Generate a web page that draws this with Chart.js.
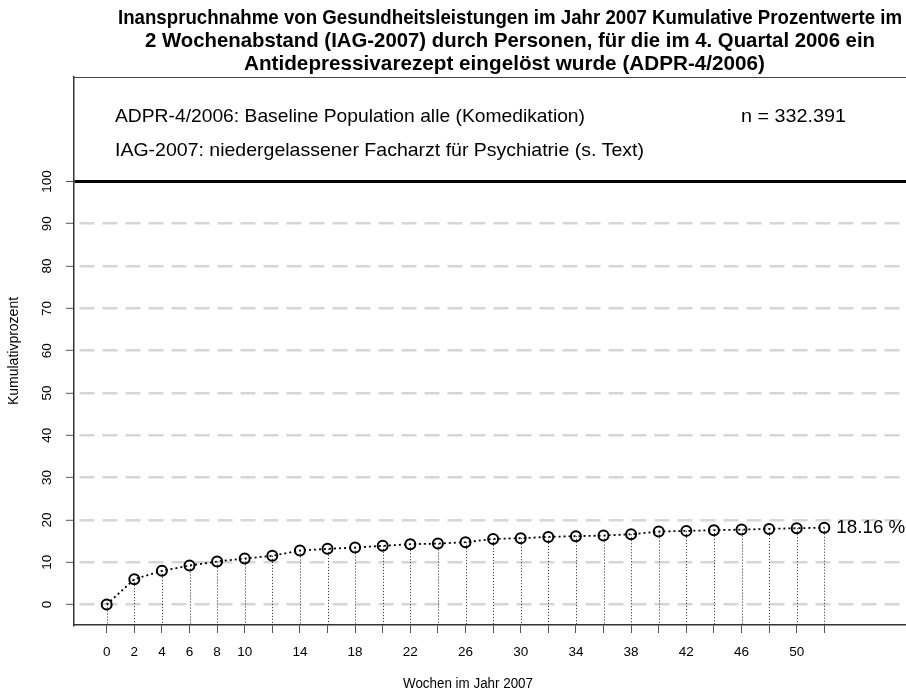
<!DOCTYPE html>
<html><head><meta charset="utf-8">
<script src="https://cdn.jsdelivr.net/npm/chart.js@4.4.1/dist/chart.umd.min.js"></script>
<style>html,body{margin:0;padding:0;background:#fff;overflow:hidden}canvas{display:block}</style>
</head><body>
<canvas id="c" width="906" height="692"></canvas>
<script>
// ---- data ----
const weeks = [0,2,4,6,8,10,12,14,16,18,20,22,24,26,28,30,32,34,36,38,40,42,44,46,48,50,52];
const cumPercent = [0,5.98,7.95,9.2,10.16,10.87,11.5,12.76,13.15,13.46,13.86,14.25,14.4,14.72,15.5,15.67,15.98,16.14,16.3,16.6,17.24,17.4,17.56,17.7,17.87,18.03,18.16];
const xTickValues = [0,2,4,6,8,10,12,14,16,18,20,22,24,26,28,30,32,34,36,38,40,42,44,46,48,50,52];
const xTickLabels = [0,2,4,6,8,10,14,18,22,26,30,34,38,42,46,50];
const yTickValues = [0,10,20,30,40,50,60,70,80,90,100];
const titleLines = [
  "Inanspruchnahme von Gesundheitsleistungen im Jahr 2007 Kumulative Prozentwerte im",
  "2 Wochenabstand (IAG-2007) durch Personen, für die im 4. Quartal 2006 ein",
  "Antidepressivarezept eingelöst wurde (ADPR-4/2006)"
];
const infoLine1 = "ADPR-4/2006: Baseline Population alle (Komedikation)";
const infoLine2 = "IAG-2007: niedergelassener Facharzt für Psychiatrie (s. Text)";
const infoN = "n = 332.391";
const endLabel = "18.16 %";
const xTitle = "Wochen im Jahr 2007";
const yTitle = "Kumulativprozent";

const FONT = '"Liberation Sans", Arial, sans-serif';

function fitText(ctx, text, x, y, width, align) {
  ctx.save();
  ctx.textAlign = align || 'left';
  ctx.textBaseline = 'middle';
  const w = ctx.measureText(text).width;
  const s = width ? width / w : 1;
  ctx.translate(x, y);
  ctx.scale(s, 1);
  ctx.fillText(text, 0, 0);
  ctx.restore();
}

const dropLines = {
  id: 'dropLines',
  beforeDatasetsDraw(chart) {
    const ctx = chart.ctx, area = chart.chartArea;
    const meta = chart.getDatasetMeta(0);
    ctx.save();
    ctx.setLineDash([1, 2]);
    ctx.strokeStyle = '#222';
    ctx.lineWidth = 1;
    meta.data.forEach(pt => {
      const x = Math.round(pt.x) + 0.5;
      ctx.beginPath();
      ctx.moveTo(x, pt.y);
      ctx.lineTo(x, area.bottom);
      ctx.stroke();
    });
    ctx.restore();
  }
};

const annotations = {
  id: 'annotations',
  afterDraw(chart) {
    const ctx = chart.ctx, area = chart.chartArea;
    const ys = chart.scales.y;
    ctx.save();
    ctx.fillStyle = '#000';
    // top border of box
    ctx.strokeStyle = '#444';
    ctx.lineWidth = 1;
    ctx.beginPath();
    ctx.moveTo(area.left, Math.round(area.top) + 0.5);
    ctx.lineTo(area.right, Math.round(area.top) + 0.5);
    ctx.stroke();
    // title
    ctx.font = 'bold 19.3px ' + FONT;
    const tL = [118, 145, 244], tR = [902, 875, 765], tY = [19, 42, 65];
    titleLines.forEach((t, i) => fitText(ctx, t, tL[i], tY[i], tR[i] - tL[i], 'left'));
    // info texts
    ctx.font = '18.5px ' + FONT;
    fitText(ctx, infoLine1, 115, 117, 470, 'left');
    fitText(ctx, infoLine2, 115, 151, 529, 'left');
    fitText(ctx, infoN, 741, 117, 105, 'left');
    // end label
    const meta = chart.getDatasetMeta(0);
    const last = meta.data[meta.data.length - 1];
    ctx.font = '19px ' + FONT;
    fitText(ctx, endLabel, last.x + 12, last.y, 69, 'left');
    // y tick labels rotated
    ctx.font = '13.5px ' + FONT;
    yTickValues.forEach(v => {
      const py = ys.getPixelForValue(v);
      ctx.save();
      ctx.translate(47, py);
      ctx.rotate(-Math.PI / 2);
      ctx.textAlign = 'center';
      ctx.textBaseline = 'middle';
      ctx.fillText(String(v), 0, 0);
      ctx.restore();
    });
    // axis titles
    ctx.font = '14px ' + FONT;
    fitText(ctx, xTitle, 468, 684, 130, 'center');
    ctx.save();
    ctx.translate(14, (area.top + area.bottom) / 2);
    ctx.rotate(-Math.PI / 2);
    ctx.textAlign = 'center';
    ctx.textBaseline = 'middle';
    ctx.fillText(yTitle, 0, 0);
    ctx.restore();
    ctx.restore();
  }
};

new Chart(document.getElementById('c'), {
  type: 'scatter',
  data: {
    datasets: [{
      data: weeks.map((w, i) => ({x: w, y: cumPercent[i]})),
      showLine: true,
      borderColor: '#000',
      borderWidth: 1.8,
      borderDash: [2, 3],
      pointRadius: 5,
      pointBorderWidth: 2,
      pointBorderColor: '#000',
      pointBackgroundColor: 'rgba(0,0,0,0)',
      pointHoverRadius: 5,
      clip: false
    }]
  },
  plugins: [dropLines, annotations],
  options: {
    responsive: false,
    animation: false,
    devicePixelRatio: 1,
    layout: {autoPadding: false, padding: {top: 77, left: 0, right: 0, bottom: 0}},
    plugins: {legend: {display: false}, title: {display: false}, tooltip: {enabled: false}},
    scales: {
      x: {
        type: 'linear',
        min: -2.37,
        max: 57.92,
        afterBuildTicks: s => { s.ticks = xTickValues.map(v => ({value: v})); },
        afterFit: s => { s.height = 67; s.paddingLeft = 0; s.paddingRight = 0; },
        ticks: {
          autoSkip: false,
          maxRotation: 0,
          minRotation: 0,
          padding: 11,
          color: '#000',
          font: {family: FONT, size: 13.5},
          callback: v => xTickLabels.includes(v) ? String(v) : ''
        },
        grid: {
          drawOnChartArea: false,
          drawTicks: true,
          tickLength: 8,
          tickColor: '#555',
          tickWidth: 1
        },
        border: {display: true, color: '#333', width: 1.5}
      },
      y: {
        type: 'linear',
        min: -4.85,
        max: 124.7,
        afterBuildTicks: s => { s.ticks = yTickValues.map(v => ({value: v})); },
        afterFit: s => { s.width = 74; s.paddingTop = 0; s.paddingBottom = 0; },
        ticks: {display: false},
        grid: {
          drawOnChartArea: true,
          drawTicks: true,
          tickLength: 8,
          tickColor: '#555',
          tickWidth: 1,
          color: c => (c.tick && c.tick.value === 100) ? '#000' : '#d6d6d6',
          lineWidth: c => (c.tick && c.tick.value === 100) ? 3 : 2.6
        },
        border: {
          display: true, color: '#333', width: 1.5,
          dash: c => (c.tick && c.tick.value !== 100) ? [15, 8] : [],
          dashOffset: c => (c.tick && c.tick.value !== 100) ? 18 : 0
        }
      }
    }
  }
});
</script>
</body></html>
